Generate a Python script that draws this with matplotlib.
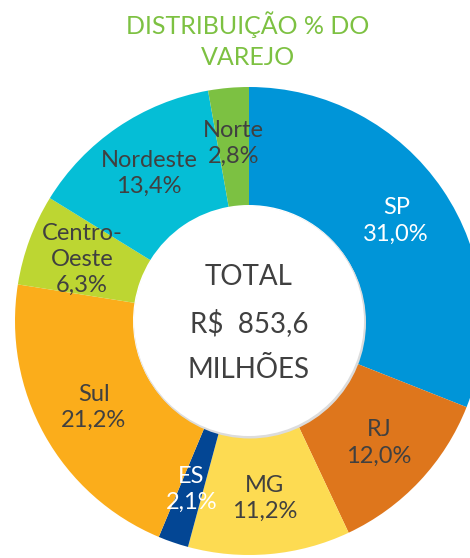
import numpy as np
import matplotlib
matplotlib.use("Agg")
import matplotlib.pyplot as plt
from matplotlib.patches import Circle

plt.rcParams["font.family"] = ["Lato", "DejaVu Sans"]

# retail distribution by region (%), clockwise from the top
regions = ["SP", "RJ", "MG", "ES", "Sul", "Centro-\nOeste", "Nordeste", "Norte"]
shares = [31.0, 12.0, 11.2, 2.1, 21.2, 6.3, 13.4, 2.8]
colors = ["#0095D8", "#DE761C", "#FDDB52", "#034694",
          "#FBAD1B", "#BDD632", "#05BED6", "#7CC142"]
label_colors = ["white", "#404040", "#404040", "white",
                "#404040", "#404040", "#404040", "#404040"]
title = "DISTRIBUIÇÃO % DO\nVAREJO"
center_lines = ["TOTAL", "R$  853,6", "MILHÕES"]

W, H = 470, 558
fig = plt.figure(figsize=(W / 100, H / 100), dpi=100)
ax = fig.add_axes([0, 0, 1, 1])

cx, cy = 249, H - 321
R = 234
r_in = 116

wedges, _ = ax.pie(shares, colors=colors, startangle=90, counterclock=False,
                   center=(cx, cy), radius=R, frame=True,
                   wedgeprops=dict(width=R - r_in, linewidth=0))
ax.set_xlim(0, W)
ax.set_ylim(0, H)
ax.set_aspect("equal")
ax.axis("off")

# faint shadow on the hole edge
ax.add_patch(Circle((cx + 1, cy - 1.5), r_in, facecolor="#dcdcdc", edgecolor="none", zorder=3))
ax.add_patch(Circle((cx, cy), r_in - 1, facecolor="white", edgecolor="none", zorder=4))

# labels at mid-angle of each wedge
label_r = 178
for w, name, val, tc in zip(wedges, regions, shares, label_colors):
    ang = np.deg2rad((w.theta1 + w.theta2) / 2)
    x = cx + label_r * np.cos(ang)
    y = cy + label_r * np.sin(ang)
    txt = "{}\n{}%".format(name, f"{val:.1f}".replace(".", ","))
    ax.text(x, y, txt, ha="center", va="center", fontsize=17,
            color=tc, linespacing=1.3, zorder=5)

for i, line in enumerate(center_lines):
    ax.text(cx, H - (277 + 46.5 * i), line, ha="center", va="center",
            fontsize=20, color="#404040", zorder=6)

ax.text(248, H - 40, title, ha="center", va="center", fontsize=18,
        color="#7DC142", linespacing=1.45)

fig.savefig("out.png", dpi=100)
